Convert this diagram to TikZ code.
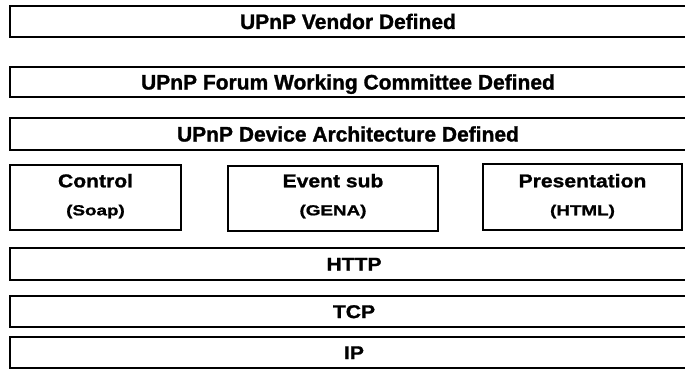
\documentclass[tikz,border=0pt]{standalone}
\usepackage{fontspec}
\setmainfont{Liberation Sans}[FakeBold=1.2]
\newfontfamily\wideA[FakeStretch=1.14,FakeBold=1.2]{Liberation Sans}
\newfontfamily\wideB[FakeStretch=1.3,FakeBold=1.2]{Liberation Sans}
\usetikzlibrary{calc}
\begin{document}
\begin{tikzpicture}[x=1pt,y=-1pt,
  layer/.style={draw=black, line width=1.4pt, rectangle, inner sep=0pt, fill=white},
  toplab/.style={font=\fontsize{21}{21}\selectfont\bfseries, text height=15pt, text depth=0pt},
  lowlab/.style={font=\fontsize{18.5}{18.5}\selectfont\wideA\bfseries, text height=13.2pt, text depth=0pt},
  mainlab/.style={font=\fontsize{18.5}{18.5}\selectfont\wideA\bfseries, anchor=base, inner sep=0pt},
  sublab/.style={font=\fontsize{14.5}{14.5}\selectfont\wideB\bfseries, anchor=base, inner sep=0pt}]
\useasboundingbox[fill=white] (0,0) rectangle (685,369);
% top layers
\node[layer, toplab, minimum width=676pt, minimum height=31pt] (vendor) at (348,21.5) {UPnP Vendor Defined};
\node[layer, toplab, minimum width=676pt, minimum height=30pt] (forum) at (348,82) {UPnP Forum Working Committee Defined};
\node[layer, toplab, minimum width=676pt, minimum height=32pt] (device) at (348,134) {UPnP Device Architecture Defined};
% middle boxes
\node[layer, minimum width=171pt, minimum height=65pt] (control) at (95.5,197.5) {};
\node[layer, minimum width=210pt, minimum height=65pt] (event) at (333,198.5) {};
\node[layer, minimum width=199pt, minimum height=66pt] (present) at (582.5,197) {};
\node[mainlab] (controlA) at ($(control.north)+(0,23)$) {Control};
\node[sublab] (controlB) at ($(control.north)+(0,51)$) {(Soap)};
\node[mainlab] (eventA) at ($(event.north)+(0,22)$) {Event sub};
\node[sublab] (eventB) at ($(event.north)+(0,50)$) {(GENA)};
\node[mainlab] (presentA) at ($(present.north)+(0,24)$) {Presentation};
\node[sublab] (presentB) at ($(present.north)+(0,52)$) {(HTML)};
% bottom layers
\node[layer, lowlab, minimum width=688pt, minimum height=32pt] (http) at (354,264) {HTTP};
\node[layer, lowlab, minimum width=688pt, minimum height=31pt] (tcp) at (354,311.5) {TCP};
\node[layer, lowlab, minimum width=688pt, minimum height=31pt] (ip) at (354,352.5) {IP};
\end{tikzpicture}
\end{document}
